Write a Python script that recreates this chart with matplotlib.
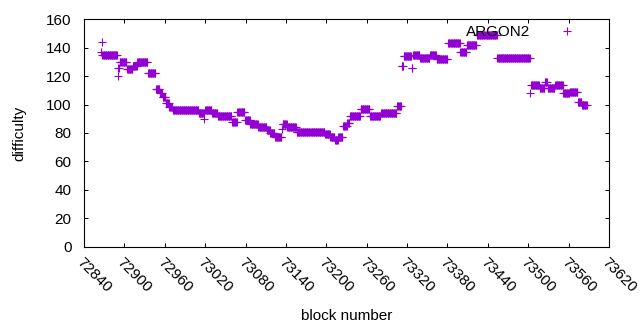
import numpy as np
from matplotlib import pyplot as plt

# runs of constant difficulty: first block, last block, value
run_start = [72865, 72866, 72867, 72890, 72891, 72893, 72904, 72913, 72919, 72935,
             72947, 72953, 72957, 72962, 72967, 72972, 73011, 73018, 73019, 73020,
             73030, 73039, 73060, 73068, 73079, 73087, 73099, 73112, 73117, 73124,
             73134, 73135, 73142, 73156, 73198, 73206, 73213, 73218, 73225, 73231,
             73235, 73251, 73265, 73281, 73305, 73312, 73315, 73327, 73329, 73339,
             73354, 73364, 73381, 73399, 73409, 73424, 73454, 73503, 73504, 73517,
             73525, 73529, 73540, 73552, 73562, 73574, 73580]
run_end = [72865, 72866, 72889, 72890, 72892, 72903, 72912, 72918, 72934, 72946,
           72952, 72956, 72961, 72966, 72971, 73010, 73017, 73018, 73019, 73029,
           73038, 73059, 73067, 73078, 73086, 73098, 73111, 73116, 73123, 73133,
           73134, 73141, 73155, 73197, 73205, 73212, 73217, 73224, 73230, 73234,
           73250, 73264, 73280, 73304, 73311, 73314, 73326, 73328, 73338, 73353,
           73363, 73380, 73398, 73408, 73423, 73453, 73502, 73503, 73516, 73524,
           73528, 73539, 73551, 73561, 73573, 73579, 73587]
run_value = [137, 144, 135, 120, 126, 130, 125, 127, 130, 122,
             111, 108, 105, 101, 98, 96, 94, 90, 94, 96,
             94, 92, 88, 95, 89, 86, 84, 82, 80, 77,
             83, 86, 84, 81, 79, 77, 75, 77, 85, 87,
             92, 97, 92, 94, 99, 127, 134, 126, 135, 133,
             135, 132, 143, 137, 142, 149, 133, 108, 114, 112,
             116, 112, 114, 108, 109, 102, 100]

x_ticks = np.arange(72840, 73621, 60)
y_ticks = np.arange(0, 161, 20)

blocks = np.concatenate([np.arange(s, e + 1) for s, e in zip(run_start, run_end)])
difficulty = np.concatenate([[v] * (e - s + 1) for s, e, v in zip(run_start, run_end, run_value)])

plt.rcParams['font.family'] = ['Liberation Sans', 'DejaVu Sans']
plt.rcParams['font.size'] = 11

fig = plt.figure(figsize=(6.4, 3.3), dpi=100)
ax = fig.add_axes([84 / 640, 1 - 246.7 / 330, 525 / 640, 227.4 / 330])

ax.plot(blocks, difficulty, linestyle='none', marker='+', markersize=5.5,
        markeredgewidth=0.8, color='#9400D3', label='ARGON2')

ax.set_xlim(72840, 73620)
ax.set_ylim(0, 160)
ax.set_xticks(x_ticks)
ax.set_yticks(y_ticks)
ax.set_xticklabels([str(t) for t in x_ticks], rotation=-45, ha='left', va='top',
                   rotation_mode='anchor')
ax.tick_params(direction='in', length=3, width=0.7, top=True, right=True,
               color='black', labelcolor='black')
ax.tick_params(axis='y', pad=9)
ax.tick_params(axis='x', pad=6)
for sp in ax.spines.values():
    sp.set_linewidth(0.8)
    sp.set_color('black')

ax.set_xlabel('block number', labelpad=10)
ax.set_ylabel('difficulty', labelpad=14)

ax.legend(loc='upper right', bbox_to_anchor=(0.99, 1.0), borderaxespad=0,
          frameon=False, markerfirst=False, handlelength=4, handletextpad=0.4)

fig.savefig('out.png', dpi=100)
